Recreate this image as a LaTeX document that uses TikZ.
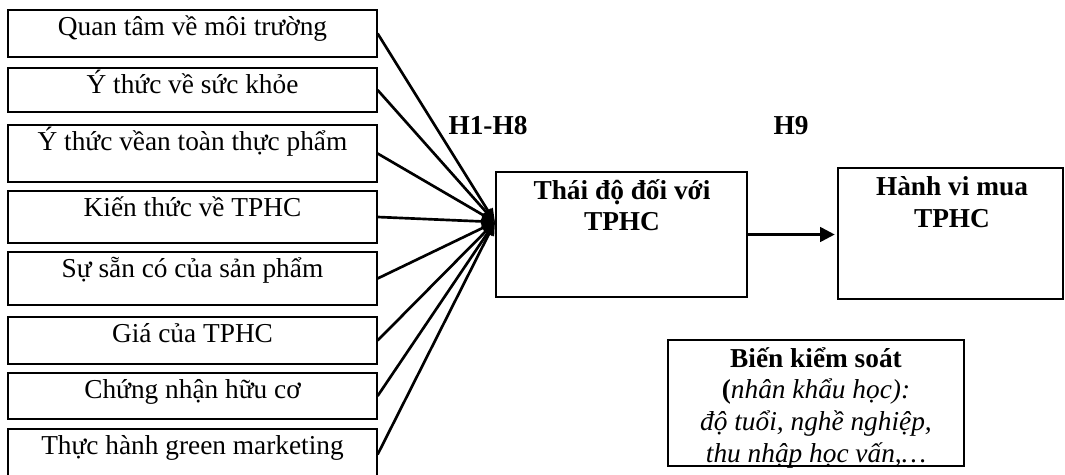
\documentclass[tikz,border=0pt]{standalone}
\usepackage{fontspec}
\setmainfont{Liberation Serif}
\usetikzlibrary{arrows.meta,fit}
\begin{document}
\begin{tikzpicture}[x=0.75pt,y=-0.75pt,
  box/.style={draw=black,line width=0.9pt,inner sep=0pt},
  lbl/.style={anchor=base,inner sep=0pt,font=\fontsize{20.5}{23.5}\selectfont},
  blbl/.style={lbl,font=\fontsize{20.5}{23.5}\selectfont\bfseries},
  ilbl/.style={lbl,font=\fontsize{20.5}{23.5}\selectfont\itshape},
  conn/.style={line width=2pt,-{Triangle[length=10pt,width=8pt]}},
  harrow/.style={line width=2pt,-{Triangle[length=11pt,width=11pt]},shorten >=2pt}]
\useasboundingbox (0,0) rectangle (1065,475);
% left factor boxes
\node[box,fit={(8,10) (377,57)}] (f1) {};
\node[box,fit={(8,68) (377,112)}] (f2) {};
\node[box,fit={(8,125) (377,182)}] (f3) {};
\node[box,fit={(8,191) (377,243)}] (f4) {};
\node[box,fit={(8,252) (377,305)}] (f5) {};
\node[box,fit={(8,317) (377,364)}] (f6) {};
\node[box,fit={(8,373) (377,419)}] (f7) {};
\node[box,fit={(8,429) (377,480)}] (f8) {};
\node[lbl] (t1) at ([yshift=-26*0.75pt]f1.north) {Quan tâm về môi trường};
\node[lbl] (t2) at ([yshift=-26*0.75pt]f2.north) {Ý thức về sức khỏe};
\node[lbl] (t3) at ([yshift=-26*0.75pt]f3.north) {Ý thức vềan toàn thực phẩm};
\node[lbl] (t4) at ([yshift=-26*0.75pt]f4.north) {Kiến thức về TPHC};
\node[lbl] (t5) at ([yshift=-26*0.75pt]f5.north) {Sự sẵn có của sản phẩm};
\node[lbl] (t6) at ([yshift=-26*0.75pt]f6.north) {Giá của TPHC};
\node[lbl] (t7) at ([yshift=-26*0.75pt]f7.north) {Chứng nhận hữu cơ};
\node[lbl] (t8) at ([yshift=-26*0.75pt]f8.north) {Thực hành green marketing};
% attitude box
\node[box,fit={(496,172) (747,297)}] (att) {};
\node[blbl] (att1) at (622,199) {Thái độ đối với};
\node[blbl] (att2) at (622,230) {TPHC};
% behaviour box
\node[box,fit={(838,168) (1063,299)}] (hb) {};
\node[blbl] (hb1) at (952,195) {Hành vi mua};
\node[blbl] (hb2) at (952,227) {TPHC};
% control box
\node[box,fit={(668,340) (964,466)}] (ctl) {};
\node[blbl] (c1) at (816,367) {Biến kiểm soát};
\node[lbl] (c2) at (816,398) {\textbf{(}\textit{nhân khẩu học):}};
\node[ilbl] (c3) at (816,430) {độ tuổi, nghề nghiệp,};
\node[ilbl] (c4) at (816,462) {thu nhập học vấn,…};
% labels
\node[blbl] (h18) at (488,134) {H1-H8};
\node[blbl] (h9) at (791,134) {H9};
% connectors
\coordinate (hub) at (495,222);
\foreach \i in {1,...,8} { \draw[conn] (f\i.east) -- (hub); }
\draw[harrow] (att.east) -- (hb.west |- att.east);
\end{tikzpicture}
\end{document}
